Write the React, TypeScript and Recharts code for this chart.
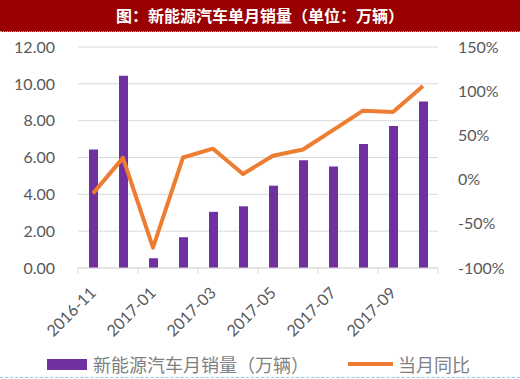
import { ComposedChart, Bar, Line, XAxis, YAxis, CartesianGrid } from "recharts";

const months = [
  "2016-11", "2016-12", "2017-01", "2017-02", "2017-03", "2017-04",
  "2017-05", "2017-06", "2017-07", "2017-08", "2017-09", "2017-10",
];
// 新能源汽车月销量（万辆）
const sales = [6.43, 10.44, 0.53, 1.67, 3.05, 3.35, 4.47, 5.85, 5.51, 6.73, 7.71, 9.04];
// 当月同比 (%)
const yoy = [-15.6, 24.6, -77, 25, 35, 6.4, 27, 34, 56, 78, 76.5, 106];

const leftTicks = [0, 2, 4, 6, 8, 10, 12];
const rightTicks = [-100, -50, 0, 50, 100, 150];

const data = months.map((m, i) => ({ month: m, sales: sales[i], yoy: yoy[i] }));

const FONT = "Lato, 'Open Sans', sans-serif";
const CJK = "'Noto Sans CJK SC', sans-serif";
const LABEL_GAP = 22;
const W = 520;
const PLOT_LEFT = 78;
const PLOT_RIGHT_GAP = 82;
const HALF_BAND = (W - PLOT_LEFT - PLOT_RIGHT_GAP) / months.length / 2;

function MonthTick(props: any) {
  const { x, y, payload, index } = props;
  const axisY = y - LABEL_GAP;
  const lines = [];
  if (index % 2 === 0) {
    lines.push(
      <line key="l" x1={x - HALF_BAND} x2={x - HALF_BAND} y1={axisY} y2={axisY + 6} stroke="#d9d9d9" />
    );
  }
  if (index === months.length - 1) {
    lines.push(
      <line key="r" x1={x + HALF_BAND} x2={x + HALF_BAND} y1={axisY} y2={axisY + 6} stroke="#d9d9d9" />
    );
  }
  return (
    <g>
      {lines}
      {index % 2 === 0 && (
        <text
          x={x}
          y={y}
          dy="0.35em"
          textAnchor="end"
          transform={`rotate(-45 ${x} ${y})`}
          fill="#595959"
          fontSize={16}
          fontFamily={FONT}
        >
          {payload.value}
        </text>
      )}
    </g>
  );
}

export default function App() {
  return (
    <div
      style={{
        position: "absolute",
        left: 0,
        top: 0,
        width: W,
        height: 379,
        background: "#fff",
        overflow: "hidden",
      }}
    >
      <div
        style={{
          position: "absolute",
          left: 0,
          top: 0,
          width: W,
          height: 31,
          background: "#990000",
          color: "#fff",
          fontFamily: CJK,
          fontWeight: 700,
          fontSize: 16,
          lineHeight: "31px",
          textAlign: "center",
          borderBottom: "1px dotted #9aaec8",
        }}
      >
        图：新能源汽车单月销量（单位：万辆）
      </div>
      <ComposedChart
        width={W}
        height={379}
        data={data}
        margin={{ top: 47, right: 8, bottom: 51, left: 8 }}
      >
        <CartesianGrid vertical={false} stroke="#d9d9d9" yAxisId="left" />
        <XAxis
          dataKey="month"
          interval={0}
          height={60}
          tickLine={false}
          tickSize={0}
          tickMargin={LABEL_GAP}
          axisLine={{ stroke: "#d9d9d9" }}
          tick={<MonthTick />}
        />
        <YAxis
          yAxisId="left"
          width={PLOT_LEFT - 8}
          domain={[0, 12]}
          ticks={leftTicks}
          tickFormatter={(v: number) => v.toFixed(2)}
          axisLine={false}
          tickLine={false}
          tickSize={0}
          tickMargin={23}
          tick={{ fill: "#595959", fontSize: 16, fontFamily: FONT }}
        />
        <YAxis
          yAxisId="right"
          orientation="right"
          width={PLOT_RIGHT_GAP - 8}
          domain={[-100, 150]}
          ticks={rightTicks}
          tickFormatter={(v: number) => `${v}%`}
          axisLine={false}
          tickLine={false}
          tickSize={0}
          tickMargin={20}
          tick={{ fill: "#595959", fontSize: 16, fontFamily: FONT, textAnchor: "start" }}
        />
        <Bar yAxisId="left" dataKey="sales" fill="#7030a0" barSize={9} isAnimationActive={false} />
        <Line
          yAxisId="right"
          dataKey="yoy"
          type="linear"
          stroke="#ed7d31"
          strokeWidth={4}
          dot={false}
          strokeLinejoin="round"
          isAnimationActive={false}
        />
      </ComposedChart>
      <div style={{ position: "absolute", left: 47, top: 359, width: 40, height: 11, background: "#7030a0" }} />
      <div
        style={{
          position: "absolute",
          left: 93,
          top: 351,
          fontFamily: CJK,
          fontSize: 18,
          lineHeight: "26px",
          color: "#7f7f7f",
          whiteSpace: "nowrap",
        }}
      >
        新能源汽车月销量（万辆）
      </div>
      <div style={{ position: "absolute", left: 348, top: 362, width: 45, height: 4, background: "#ed7d31" }} />
      <div
        style={{
          position: "absolute",
          left: 398,
          top: 351,
          fontFamily: CJK,
          fontSize: 18,
          lineHeight: "26px",
          color: "#7f7f7f",
          whiteSpace: "nowrap",
        }}
      >
        当月同比
      </div>
      <div style={{ position: "absolute", left: 0, top: 377, width: W, borderTop: "1px dashed #9dc3e6" }} />
    </div>
  );
}
